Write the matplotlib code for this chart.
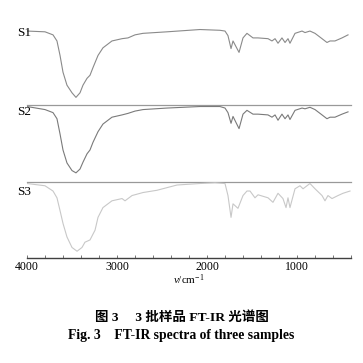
import numpy as np
import matplotlib.pyplot as plt

plt.rcParams['font.family'] = ['Liberation Serif', 'Noto Sans CJK SC']
plt.rcParams['mathtext.fontset'] = 'custom'
plt.rcParams['mathtext.rm'] = 'Liberation Serif'
plt.rcParams['mathtext.it'] = 'Liberation Serif:italic'

# wavenumber (cm-1) and transmittance (%)
wn1 = [4000, 3800, 3711, 3667, 3633, 3600, 3556, 3500, 3456, 3411, 3378, 3333, 3300,
       3267, 3211, 3156, 3056, 2944, 2878, 2800, 2711, 2444, 2078, 1856, 1800, 1767,
       1733, 1711, 1644, 1600, 1556, 1489, 1433, 1322, 1278, 1244, 1211, 1167, 1133,
       1100, 1078, 1022, 944, 911, 856, 800, 722, 667, 633, 578, 500, 433]
t1 = [97, 96, 92, 84, 65, 43, 26, 16, 10, 16, 26, 35, 39,
      49, 65, 75, 84, 87, 88, 92, 94, 96, 99, 98, 97, 91,
      74, 84, 69, 88, 94, 88, 88, 87, 84, 87, 81, 88, 82,
      87, 81, 94, 97, 95, 97, 94, 87, 82, 84, 84, 88, 92]

wn2 = [4000, 3800, 3711, 3667, 3633, 3600, 3556, 3500, 3456, 3411, 3378, 3333, 3300,
       3267, 3211, 3156, 3056, 2944, 2878, 2800, 2711, 2444, 2078, 1856, 1800, 1767,
       1733, 1711, 1644, 1600, 1556, 1489, 1433, 1322, 1278, 1244, 1211, 1167, 1133,
       1100, 1078, 1022, 944, 911, 856, 800, 722, 667, 633, 578, 500, 433]
t2 = [99, 95, 91, 83, 63, 42, 25, 15, 12, 17, 26, 37, 42,
      52, 66, 76, 85, 88, 90, 93, 95, 97, 99, 99, 97, 91,
      77, 86, 70, 89, 94, 89, 89, 88, 85, 88, 81, 89, 83,
      88, 82, 94, 97, 96, 98, 95, 88, 83, 85, 85, 89, 92]

wn3 = [4000, 3800, 3711, 3667, 3633, 3600, 3556, 3500, 3444, 3389, 3356, 3300, 3244,
       3211, 3156, 3056, 2944, 2911, 2833, 2711, 2556, 2333, 2078, 1911, 1800, 1767,
       1733, 1711, 1656, 1600, 1556, 1522, 1467, 1433, 1322, 1267, 1211, 1156, 1122,
       1100, 1078, 1022, 967, 933, 856, 800, 722, 689, 656, 611, 544, 489, 411]
t3 = [99, 96, 89, 80, 63, 46, 28, 14, 9, 14, 21, 24, 37,
      54, 67, 76, 79, 76, 83, 87, 90, 97, 99, 100, 99, 83,
      54, 72, 66, 83, 89, 89, 80, 84, 80, 74, 86, 79, 67,
      80, 67, 92, 96, 92, 99, 92, 83, 76, 83, 79, 83, 86, 89]

names = ['S1', 'S2', 'S3']
spectra = [(wn1, t1), (wn2, t2), (wn3, t3)]
colors = ['#8a8a8a', '#7a7a7a', '#c8c8c8']
label_y = [0.93, 0.91, 0.87]

fig = plt.figure(figsize=(3.63, 3.63), dpi=100)
W = 363.0
left, right = 27 / W, 351 / W
tops = [28, 105, 182]
bots = [105, 182, 258]

for i, (name, (wn, t)) in enumerate(zip(names, spectra)):
    ax = fig.add_axes([left, 1 - bots[i] / W, right - left, (bots[i] - tops[i]) / W])
    ax.plot(wn, t, color=colors[i], lw=0.8)
    ax.set_xlim(4000, 400)
    ax.set_ylim(0, 101)
    ax.patch.set_alpha(0)
    for s in ['left', 'right', 'top']:
        ax.spines[s].set_visible(False)
    ax.set_yticks([])
    ax.text(0.013, label_y[i], name, transform=ax.transAxes, fontsize=9.5,
            ha='right', va='center')
    if i < 2:
        ax.spines['bottom'].set_color('#999999')
        ax.spines['bottom'].set_linewidth(0.9)
        ax.set_xticks([])
    else:
        ax.spines['bottom'].set_color('#404040')
        ax.spines['bottom'].set_linewidth(1.0)
        ax.set_xticks([4000, 3000, 2000, 1000])
        ax.set_xticks(np.arange(4000, 399, -200), minor=True)
        ax.tick_params(axis='x', which='both', direction='in', length=2.5,
                       width=0.6, color='#606060', labelsize=8.5, pad=2)
        ax.set_xlabel(r'$\mathit{v}$/cm$^{-1}$', fontsize=8, labelpad=0)

fig.text(0.5, 1 - 318 / W, '图 3\u3000 3 批样品 FT-IR 光谱图', ha='center', va='center',
         fontsize=9.7, fontweight='bold')
fig.text(0.5, 1 - 336 / W, 'Fig. 3\u3000FT-IR spectra of three samples', ha='center',
         va='center', fontsize=9.8, fontweight='bold')

fig.savefig('out.png', dpi=100)
